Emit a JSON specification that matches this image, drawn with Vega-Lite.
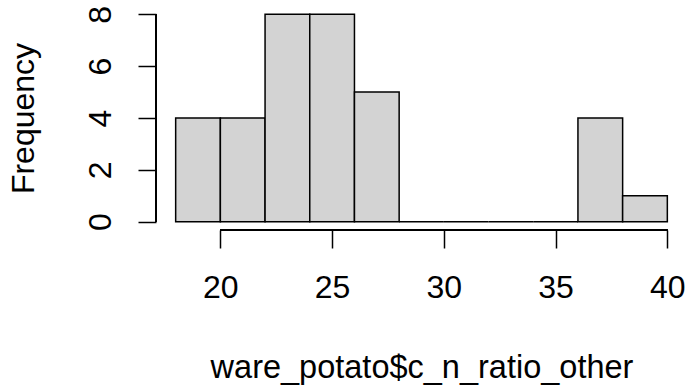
{
  "$schema": "https://vega.github.io/schema/vega-lite/v6.json",
  "width": 531,
  "height": 224,
  "autosize": {"type": "none"},
  "padding": {"left": 156, "top": 6, "right": 0, "bottom": 157},
  "background": "white",
  "config": {
    "view": {"stroke": null},
    "font": "Liberation Sans",
    "axis": {"grid": false, "domain": false, "labelFont": "Liberation Sans", "titleFont": "Liberation Sans", "labelColor": "black", "titleColor": "black", "tickColor": "black", "titleFontWeight": "normal"}
  },
  "data": {
    "values": [
      {"bin_start": 18, "bin_end": 20, "count": 4},
      {"bin_start": 20, "bin_end": 22, "count": 4},
      {"bin_start": 22, "bin_end": 24, "count": 8},
      {"bin_start": 24, "bin_end": 26, "count": 8},
      {"bin_start": 26, "bin_end": 28, "count": 5},
      {"bin_start": 28, "bin_end": 30, "count": 0},
      {"bin_start": 30, "bin_end": 32, "count": 0},
      {"bin_start": 32, "bin_end": 34, "count": 0},
      {"bin_start": 34, "bin_end": 36, "count": 0},
      {"bin_start": 36, "bin_end": 38, "count": 4},
      {"bin_start": 38, "bin_end": 40, "count": 1}
    ]
  },
  "layer": [
    {
      "mark": {"type": "bar", "fill": "#d3d3d3", "stroke": "black", "strokeWidth": 1.5},
      "encoding": {
        "x": {
          "field": "bin_start", "type": "quantitative",
          "scale": {"domain": [17.12, 40.88], "nice": false, "zero": false},
          "axis": {
            "values": [20, 25, 30, 35, 40],
            "title": "ware_potato$c_n_ratio_other",
            "titleFontSize": 32.5,
            "titleBaseline": "alphabetic",
            "titleY": 147,
            "tickSize": 18,
            "tickWidth": 1.5,
            "labelFontSize": 32,
            "labelPadding": 24,
            "labelBaseline": "top",
            "labelFlush": false,
            "labelOverlap": false
          }
        },
        "x2": {"field": "bin_end"},
        "y": {
          "field": "count", "type": "quantitative",
          "scale": {"domain": [-0.32, 8.32], "nice": false, "zero": false},
          "axis": {
            "values": [0, 2, 4, 6, 8],
            "title": "Frequency",
            "titleFontSize": 32,
            "titleBaseline": "alphabetic",
            "titleAngle": -90,
            "titleX": -123,
            "tickSize": 18,
            "tickWidth": 1.5,
            "labelFontSize": 32,
            "labelAngle": -90,
            "labelAlign": "center",
            "labelBaseline": "alphabetic",
            "labelPadding": 28,
            "labelFlush": false,
            "labelOverlap": false
          }
        },
        "y2": {"datum": 0}
      }
    },
    {
      "mark": {"type": "rule", "stroke": "black", "strokeWidth": 1.5},
      "encoding": {
        "x": {"datum": 20},
        "x2": {"datum": 40},
        "y": {"datum": -0.32}
      }
    },
    {
      "mark": {"type": "rule", "stroke": "black", "strokeWidth": 1.5},
      "encoding": {
        "y": {"datum": 0},
        "y2": {"datum": 8},
        "x": {"datum": 17.12}
      }
    }
  ]
}
